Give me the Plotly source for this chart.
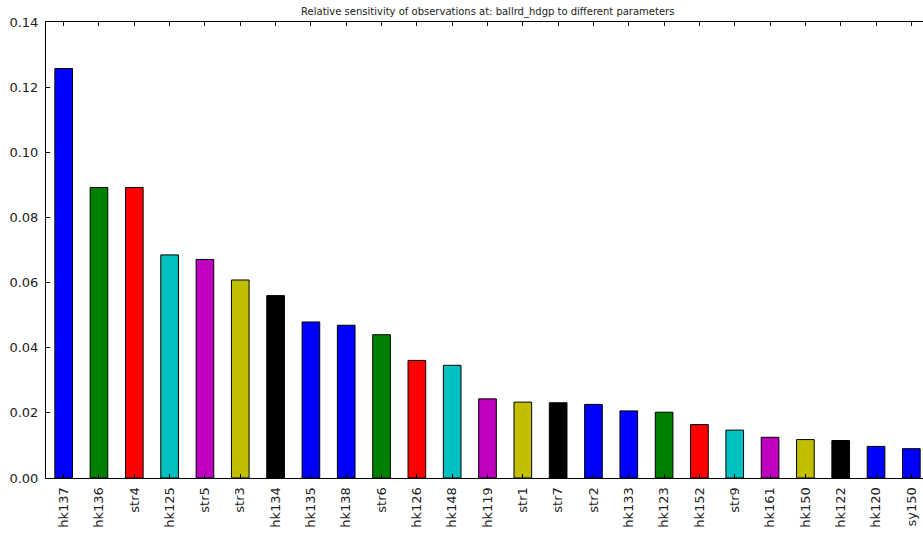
import plotly.graph_objects as go

params = ["hk137", "hk136", "str4", "hk125", "str5", "str3", "hk134", "hk135",
          "hk138", "str6", "hk126", "hk148", "hk119", "str1", "str7", "str2",
          "hk133", "hk123", "hk152", "str9", "hk161", "hk150", "hk122", "hk120", "sy150"]
sensitivity = [0.1257, 0.0892, 0.0892, 0.0685, 0.0671, 0.0608, 0.0560, 0.0479,
               0.0469, 0.0440, 0.0361, 0.0346, 0.0243, 0.0233, 0.0231, 0.0226,
               0.0206, 0.0202, 0.0164, 0.0147, 0.0125, 0.0118, 0.0115, 0.0097, 0.0090]
color_cycle = ["#0000FF", "#008000", "#FF0000", "#00BFBF", "#BF00BF", "#BFBF00", "#000000", "#0000FF"]
bar_colors = [color_cycle[i % len(color_cycle)] for i in range(len(params))]
y_ticks = [0.00, 0.02, 0.04, 0.06, 0.08, 0.10, 0.12, 0.14]

x_pos = list(range(len(params)))

fig = go.Figure(go.Bar(
    x=x_pos, y=sensitivity, width=0.5,
    marker=dict(color=bar_colors, line=dict(color="black", width=1)),
))

font_family = "DejaVu Sans"
fig.update_layout(
    width=923, height=537,
    margin=dict(l=46, r=0, t=22, b=59, autoexpand=False),
    paper_bgcolor="white", plot_bgcolor="white",
    showlegend=False,
    font=dict(family=font_family, color="#222222", size=13),
    title=dict(text="Relative sensitivity of observations at: ballrd_hdgp to different parameters",
               font=dict(size=10, family=font_family, color="#222222"),
               x=0.5037, xanchor="center", xref="paper", y=0.979, yanchor="middle"),
)
fig.update_xaxes(
    range=[-0.5, 24.33], tickmode="array", tickvals=x_pos, ticktext=params,
    tickangle=-90, ticks="inside", ticklen=4, tickcolor="black",
    showline=True, linecolor="black", linewidth=1, mirror="ticks",
    showgrid=False, zeroline=False, tickfont=dict(size=13), automargin=False,
    ticklabelstandoff=3,
)
fig.update_yaxes(
    range=[0, 0.14], tickmode="array", tickvals=y_ticks,
    ticktext=[f"{v:.2f}" for v in y_ticks],
    ticks="inside", ticklen=4, tickcolor="black",
    showline=True, linecolor="black", linewidth=1, mirror=False,
    showgrid=False, zeroline=False, tickfont=dict(size=13), automargin=False,
    ticklabelstandoff=4,
)

fig.write_html("out.html",
               config={"displayModeBar": False},
               post_script="document.body.style.margin='0';document.body.style.overflow='hidden';")
